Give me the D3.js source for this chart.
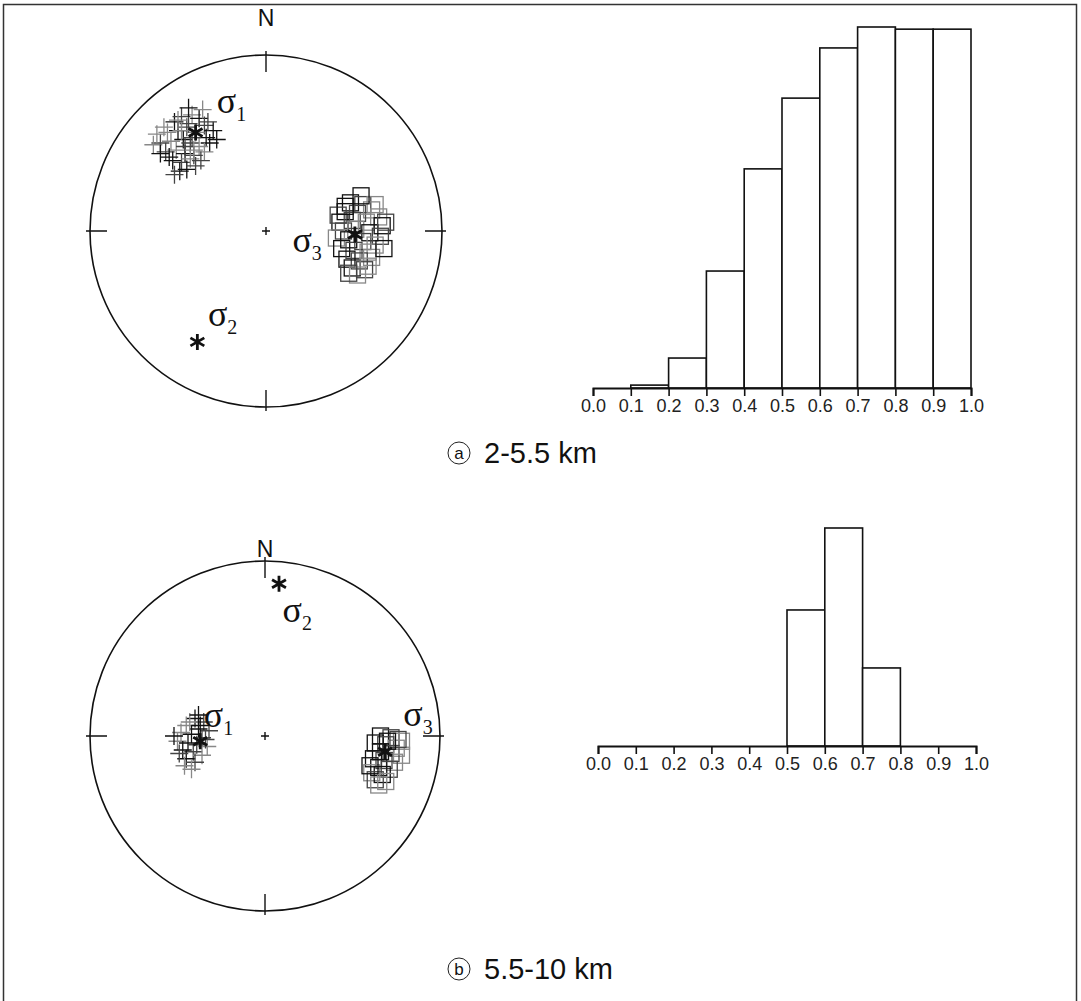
<!DOCTYPE html>
<html><head><meta charset="utf-8">
<script src="https://cdn.jsdelivr.net/npm/d3@7"></script>
<style>body{margin:0;background:#fff}svg{display:block}</style>
</head><body>
<script>
// ---------- DATA ----------
const binEdges = [0.0,0.1,0.2,0.3,0.4,0.5,0.6,0.7,0.8,0.9,1.0];
const tickLabels = ["0.0","0.1","0.2","0.3","0.4","0.5","0.6","0.7","0.8","0.9","1.0"];
const histA = [0, 0.8, 8.3, 32.4, 60.7, 80.3, 94.2, 100, 99.4, 99.4];
const histB = [0, 0, 0, 0, 0, 62.4, 100, 35.8, 0, 0];
const captionA = "2-5.5 km", captionB = "5.5-10 km";
const letterA = "a", letterB = "b";

// stereonet points, unit-disc coords [x (east), y (north)]
const sigma1A = [[-0.52,0.62],[-0.48,0.65],[-0.42,0.66],[-0.38,0.64],[-0.35,0.60],[-0.56,0.56],[-0.50,0.57],[-0.45,0.59],[-0.40,0.56],[-0.34,0.53],[-0.60,0.50],[-0.54,0.51],[-0.47,0.52],[-0.43,0.50],[-0.38,0.48],[-0.32,0.50],[-0.57,0.45],[-0.51,0.46],[-0.46,0.44],[-0.41,0.43],[-0.35,0.45],[-0.53,0.40],[-0.48,0.39],[-0.43,0.41],[-0.49,0.34],[-0.44,0.61],[-0.62,0.55],[-0.30,0.57],[-0.46,0.48],[-0.41,0.46],[-0.55,0.42],[-0.37,0.40],[-0.50,0.63],[-0.44,0.70],[-0.33,0.62],[-0.64,0.49],[-0.45,0.35],[-0.40,0.37],[-0.58,0.59],[-0.28,0.52],[-0.52,0.32],[-0.36,0.69],[-0.60,0.44],[-0.42,0.53],[-0.48,0.57]];
const sigma3A = [[0.48,0.16],[0.55,0.15],[0.60,0.12],[0.45,0.11],[0.52,0.10],[0.64,0.08],[0.42,0.05],[0.49,0.06],[0.57,0.05],[0.66,0.03],[0.44,0.00],[0.51,0.01],[0.59,-0.01],[0.65,-0.03],[0.40,-0.04],[0.47,-0.05],[0.55,-0.06],[0.62,-0.08],[0.43,-0.10],[0.50,-0.11],[0.58,-0.12],[0.46,-0.16],[0.53,-0.17],[0.60,-0.15],[0.49,-0.21],[0.56,-0.22],[0.52,-0.25],[0.67,-0.10],[0.41,0.09],[0.62,0.15],[0.54,0.20],[0.47,-0.24],[0.58,-0.20],[0.45,0.14],[0.68,0.05]];
const sigma1B = [[-0.40,0.10],[-0.35,0.08],[-0.45,0.06],[-0.38,0.04],[-0.32,0.03],[-0.48,0.02],[-0.42,0.01],[-0.36,-0.01],[-0.50,-0.03],[-0.44,-0.04],[-0.39,-0.05],[-0.33,-0.06],[-0.47,-0.08],[-0.41,-0.09],[-0.36,-0.11],[-0.45,-0.13],[-0.40,-0.15],[-0.43,0.08],[-0.52,0.00],[-0.34,-0.02],[-0.46,-0.17],[-0.37,0.06],[-0.49,-0.10],[-0.42,-0.19],[-0.38,0.12]];
const sigma3B = [[0.66,0.00],[0.72,-0.01],[0.78,-0.03],[0.63,-0.04],[0.69,-0.05],[0.75,-0.07],[0.66,-0.09],[0.72,-0.10],[0.78,-0.11],[0.62,-0.13],[0.68,-0.14],[0.74,-0.15],[0.65,-0.18],[0.71,-0.19],[0.61,-0.21],[0.67,-0.22],[0.63,-0.25],[0.69,-0.26],[0.60,-0.17],[0.76,-0.02],[0.65,-0.28],[0.70,-0.03]];
// mean stress axes [x,y]
const meanA = {s1:[-0.40,0.56], s2:[-0.39,-0.63], s3:[0.505,-0.02]};
const meanB = {s1:[-0.37,-0.03], s2:[0.08,0.87], s3:[0.686,-0.09]};
// label positions in unit coords
const labelsA = [{s:"1",p:[-0.28,0.67]},{s:"2",p:[-0.33,-0.54]},{s:"3",p:[0.15,-0.12]}];
const labelsB = [{s:"1",p:[-0.35,0.05]},{s:"2",p:[0.10,0.65]},{s:"3",p:[0.79,0.06]}];

// ---------- DRAW ----------
const W=1081,H=1001;
const svg=d3.select("body").append("svg").attr("width",W).attr("height",H);
svg.append("rect").attr("x",3.5).attr("y",4.5).attr("width",1073).attr("height",1010)
  .attr("fill","none").attr("stroke","#333").attr("stroke-width",1.5);

function asterisk(g,x,y,r){
  const p=d3.path();
  for(let k=0;k<3;k++){const a=Math.PI/2+k*Math.PI/3;p.moveTo(x-r*Math.cos(a),y-r*Math.sin(a));p.lineTo(x+r*Math.cos(a),y+r*Math.sin(a));}
  g.append("path").attr("d",p.toString()).attr("stroke","#111").attr("stroke-width",2.8).attr("fill","none");
}

function stereonet(cx,cy,R,nY,s1,s3,mean,labels){
  const x=d3.scaleLinear().domain([-1,1]).range([cx-R,cx+R]);
  const y=d3.scaleLinear().domain([-1,1]).range([cy+R,cy-R]);
  const g=svg.append("g");
  g.append("circle").attr("cx",x(0)).attr("cy",y(0)).attr("r",R).attr("fill","none").attr("stroke","#111").attr("stroke-width",1.6);
  const tin=17,tout=4;
  g.append("path").attr("stroke","#111").attr("stroke-width",1.4).attr("d",
    `M${x(0)},${y(1)-tout}V${y(1)+tin}M${x(0)},${y(-1)+tout}V${y(-1)-tin}`+
    `M${x(-1)-tout},${y(0)}H${x(-1)+tin}M${x(1)+tout},${y(0)}H${x(1)-tin}`+
    `M${x(0)-4},${y(0)}H${x(0)+4}M${x(0)},${y(0)-4}V${y(0)+4}`);
  g.append("text").attr("x",x(0)).attr("y",nY).attr("text-anchor","middle")
    .attr("font-family","Liberation Sans, Arial").attr("font-size",23).attr("fill","#111").text("N");
  // squares
  g.selectAll(".sq").data(s3).join("rect").attr("x",d=>x(d[0])-8).attr("y",d=>y(d[1])-8)
    .attr("width",16).attr("height",16).attr("fill","none")
    .attr("stroke",(d,i)=>i%3===0?"#111":(i%3===1?"#444":"#888")).attr("stroke-width",1.3);
  // crosses
  g.selectAll(".cr").data(s1).join("path").attr("d",d=>{const X=x(d[0]),Y=y(d[1]);return `M${X-9},${Y}H${X+9}M${X},${Y-9}V${Y+9}`;})
    .attr("stroke",(d,i)=>i%3===0?"#111":(i%3===1?"#444":"#888")).attr("stroke-width",1.3).attr("fill","none");
  asterisk(g,x(mean.s1[0]),y(mean.s1[1]),8);
  asterisk(g,x(mean.s2[0]),y(mean.s2[1]),8);
  asterisk(g,x(mean.s3[0]),y(mean.s3[1]),8);
  labels.forEach(l=>{
    const t=g.append("text").attr("x",x(l.p[0])).attr("y",y(l.p[1])).attr("font-family","Liberation Serif, Times New Roman, serif").attr("fill","#111");
    t.append("tspan").attr("font-size",36).text("σ");
    t.append("tspan").attr("font-size",20).attr("dy",8).text(l.s);
  });
}

function histogram(x0,x1,base,top,vals){
  const x=d3.scaleLinear().domain([0,1]).range([x0,x1]);
  const y=d3.scaleLinear().domain([0,100]).range([base,top]);
  const g=svg.append("g");
  const bins=vals.map((v,i)=>({a:binEdges[i],b:binEdges[i+1],v})).filter(d=>d.v>0);
  g.selectAll("rect").data(bins).join("rect").attr("x",d=>x(d.a)).attr("y",d=>y(d.v))
    .attr("width",d=>x(d.b)-x(d.a)).attr("height",d=>y(0)-y(d.v))
    .attr("fill","#fff").attr("stroke","#111").attr("stroke-width",1.6);
  const ax=d3.axisBottom(x).tickValues(binEdges).tickFormat((d,i)=>tickLabels[i]).tickSizeOuter(0).tickSize(8).tickPadding(3);
  const a=g.append("g").attr("transform",`translate(0,${base})`).call(ax);
  a.attr("font-family","Liberation Sans, Arial").attr("font-size",18);
  a.select(".domain").attr("stroke","#111").attr("stroke-width",2);
  a.selectAll(".tick line").attr("stroke","#111").attr("stroke-width",1.6);
  a.selectAll("text").attr("fill","#222");
}

function caption(cx,cy,letter,txt){
  const g=svg.append("g");
  g.append("circle").attr("cx",cx).attr("cy",cy).attr("r",11).attr("fill","none").attr("stroke","#222").attr("stroke-width",1);
  g.append("text").attr("x",cx).attr("y",cy+6).attr("text-anchor","middle").attr("font-family","Liberation Sans, Arial").attr("font-size",17).attr("fill","#111").text(letter);
  g.append("text").attr("x",cx+25).attr("y",cy+10).attr("font-family","Liberation Sans, Arial").attr("font-size",29).attr("fill","#111").text(txt);
}

stereonet(266,231,176,26,sigma1A,sigma3A,meanA,labelsA);
stereonet(265,736,175,557,sigma1B,sigma3B,meanB,labelsB);
histogram(593,971,388,27,histA);
histogram(598,976,746,528,histB);
caption(459,453,letterA,captionA);
caption(459,969,letterB,captionB);
</script>
</body></html>
